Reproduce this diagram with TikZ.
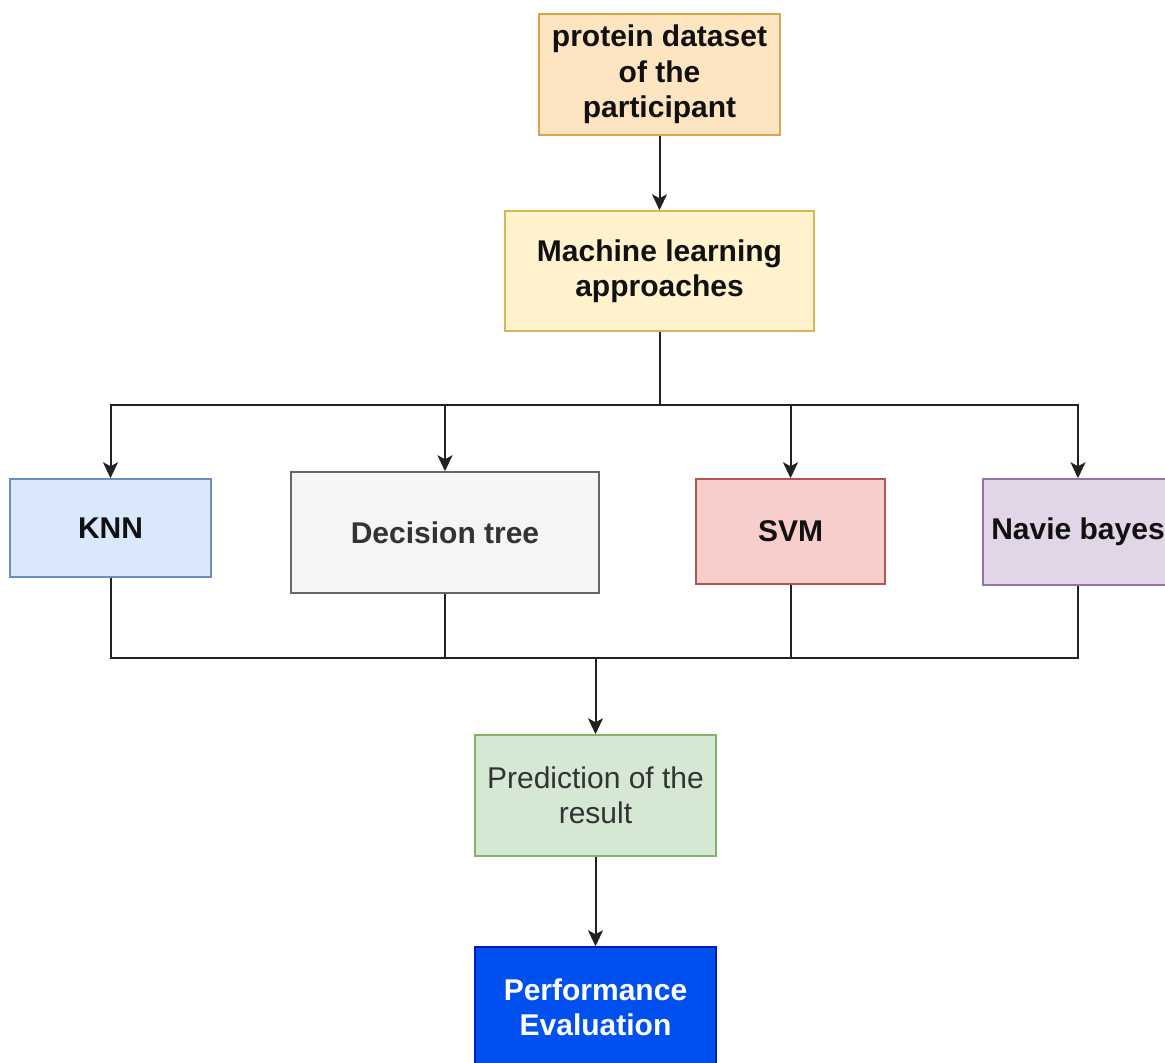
\documentclass[tikz,border=0pt]{standalone}
\usepackage{fontspec}
\setmainfont{Liberation Sans}
\usetikzlibrary{arrows.meta}
\definecolor{orfill}{HTML}{FCE5C0}
\definecolor{ordraw}{HTML}{D9A44E}
\definecolor{yefill}{HTML}{FFF2CC}
\definecolor{yedraw}{HTML}{D6B656}
\definecolor{blfill}{HTML}{DAE8FC}
\definecolor{bldraw}{HTML}{6C8EBF}
\definecolor{grfill}{HTML}{F5F5F5}
\definecolor{grdraw}{HTML}{666666}
\definecolor{rdfill}{HTML}{F8CECC}
\definecolor{rddraw}{HTML}{B85450}
\definecolor{pufill}{HTML}{E1D5E7}
\definecolor{pudraw}{HTML}{9673A6}
\definecolor{gnfill}{HTML}{D5E8D4}
\definecolor{gndraw}{HTML}{82B366}
\definecolor{bufill}{HTML}{0050EF}
\definecolor{budraw}{HTML}{001DBC}
\definecolor{linec}{HTML}{222222}
\definecolor{textc}{HTML}{111111}
\begin{document}
\begin{tikzpicture}[x=1pt,y=-1pt,
  box/.style={draw, line width=1.5pt, inner sep=0pt, align=center, text=textc,
    font=\fontsize{30}{35.5}\selectfont\bfseries},
  conn/.style={draw=linec, line width=2pt},
  arr/.style={conn, -{Stealth[width=15pt,length=16pt,inset=4pt]}}]
\useasboundingbox (0,0) rectangle (1165,1063);
\clip (0,0) rectangle (1165,1063);
\fill[white] (0,0) rectangle (1165,1063);

\node[box, fill=orfill, draw=ordraw, minimum width=241pt, minimum height=121pt] (prot) at (659.5,74.5) {protein dataset\\of the\\participant};
\node[box, fill=yefill, draw=yedraw, minimum width=309pt, minimum height=120pt] (ml) at (659.5,271) {Machine learning\\approaches};
\node[box, fill=blfill, draw=bldraw, minimum width=201pt, minimum height=98pt] (knn) at (110.5,528) {KNN};
\node[box, fill=grfill, draw=grdraw, text=black!80, minimum width=308pt, minimum height=121pt] (dt) at (445,532.5) {Decision tree};
\node[box, fill=rdfill, draw=rddraw, minimum width=189pt, minimum height=105pt] (svm) at (790.5,531.5) {SVM};
\node[box, fill=pufill, draw=pudraw, minimum width=190pt, minimum height=106pt] (nb) at (1078,532) {Navie bayes};
\node[box, fill=gnfill, draw=gndraw, text=black!80, font=\fontsize{30}{35.5}\selectfont, minimum width=241pt, minimum height=121pt] (pred) at (595.5,795.5) {Prediction of the\\result};
\node[box, fill=bufill, draw=budraw, text=white, minimum width=241pt, minimum height=121pt] (perf) at (595.5,1007.5) {Performance\\Evaluation};

\coordinate (split) at (659.5,405);
\coordinate (merge) at (595.5,658);

\draw[arr] (prot.south) -- (ml.north);
\draw[arr] (ml.south) |- (split) -| (knn.north);
\draw[arr] (ml.south) |- (split) -| (dt.north);
\draw[arr] (ml.south) |- (split) -| (svm.north);
\draw[arr] (ml.south) |- (split) -| (nb.north);
\draw[conn] (knn.south) |- (merge);
\draw[conn] (dt.south) |- (merge);
\draw[conn] (svm.south) |- (merge);
\draw[conn] (nb.south) |- (merge);
\draw[arr] (merge) -- (pred.north);
\draw[arr] (pred.south) -- (perf.north);
\end{tikzpicture}
\end{document}
